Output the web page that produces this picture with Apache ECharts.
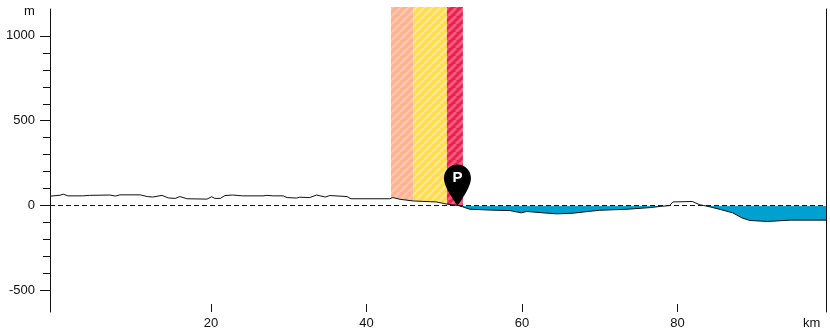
<!DOCTYPE html>
<html><head><meta charset="utf-8">
<style>html,body{margin:0;padding:0;background:#fff}#c{width:830px;height:329px}</style>
<script src="https://cdn.jsdelivr.net/npm/echarts@6/dist/echarts.min.js"></script>
</head><body><div id="c"></div>
<script>
const distanceKm=[-0.7,0.6,1.0,1.6,3.5,4.4,7.0,7.7,8.3,10.9,11.8,12.5,13.7,14.5,15.4,16.0,16.9,19.5,20.1,20.5,21.2,21.8,22.8,24.1,26.7,27.2,28,29.3,29.8,31,31.4,32.7,33.6,34.7,35.3,37.5,38,43,43.4,44.3,46,49,50.4,51.8,52.4,53.3,54.6,55.5,58.5,59.9,60.6,62.7,64.5,66.6,68.5,70,73.5,76.5,77.8,79,79.4,81.9,82.9,83.4,84.2,85.5,87.1,88.3,89.3,91.6,94.5,99.1];
const elevationM=[55,61,67,57,57,60,62,56,63,63,53,50,60,45,42,53,40,38,52,42,42,59,62,57,57,60,57,57,47,44,49,47,62,50,59,53,40,40,47,37,27,21,8,0,-8,-22,-24,-26,-30,-43,-35,-43,-49,-45,-35,-28,-22,-12,-5,0,21,24,4,0,-8,-23,-43,-73,-88,-94,-86,-86];
const bandEdgesKm=[43.15,46,50.35,52.4];
const bandBase=['#ffb08e','#ffdb4d','#e8214f'];
const bandStripe=['#fdc6ae','#ffe88c','#f65c80'];
const xTicks=[20,40,60,80];
const yLabels=[-500,0,500,1000];
const yMinorTicks=[-400,-300,-200,-100,100,200,300,400,600,700,800,900];
const xRange=[-0.7,99.1];
const yRange=[-627.5,1158.5];
const bandTop=1170;
const pinAt=[51.7,0];

function interp(k){
  for(let i=1;i<distanceKm.length;i++){
    if(k<=distanceKm[i]){
      const t=(k-distanceKm[i-1])/(distanceKm[i]-distanceKm[i-1]);
      return elevationM[i-1]+t*(elevationM[i]-elevationM[i-1]);
    }
  }
  return elevationM[elevationM.length-1];
}
function stripes(base,stripe){
  const s=8,c=document.createElement('canvas');c.width=s;c.height=s;
  const g=c.getContext('2d');
  g.fillStyle=base;g.fillRect(0,0,s,s);
  g.strokeStyle=stripe;g.lineWidth=2.8;
  for(let o=-s;o<=s*2;o+=s){g.beginPath();g.moveTo(o-s,s);g.lineTo(o,0);g.stroke();}
  return {image:c,repeat:'repeat'};
}
const patterns=bandBase.map((b,i)=>stripes(b,bandStripe[i]));
const profile=distanceKm.map((k,i)=>[k,elevationM[i]]);
const water=distanceKm.map((k,i)=>[k,Math.min(0,elevationM[i])]);
const font='"Liberation Sans",Arial,sans-serif';
const ink='#111';

const chart=echarts.init(document.getElementById('c'),null,{renderer:'canvas'});
chart.setOption({
  animation:false,
  backgroundColor:'#fff',
  grid:{left:50,right:4,top:9,bottom:17,containLabel:false,outerBoundsMode:'none'},
  graphic:[
    {type:'text',left:24,top:5,style:{text:'m',font:'13px '+font,fill:ink}},
    {type:'text',left:803,top:317,style:{text:'km',font:'13px '+font,fill:ink}}
  ],
  xAxis:{type:'value',min:xRange[0],max:xRange[1],
    axisLine:{show:false,onZero:false},splitLine:{show:false},
    axisTick:{show:true,inside:true,length:8,customValues:xTicks,lineStyle:{color:ink,width:1}},
    axisLabel:{show:true,customValues:xTicks,margin:5,fontSize:13,fontFamily:font,color:ink}},
  yAxis:[
    {type:'value',position:'left',min:yRange[0],max:yRange[1],
      splitLine:{show:false},
      axisLine:{show:true,onZero:false,lineStyle:{color:ink,width:1}},
      axisTick:{show:true,length:10,customValues:yLabels,lineStyle:{color:ink,width:1}},
      axisLabel:{show:true,customValues:yLabels,formatter:v=>String(v),margin:15,fontSize:13,fontFamily:font,color:ink}},
    {type:'value',position:'left',min:yRange[0],max:yRange[1],
      splitLine:{show:false},
      axisLine:{show:false,onZero:false},
      axisTick:{show:true,length:7,customValues:yMinorTicks,lineStyle:{color:ink,width:1}},
      axisLabel:{show:false}},
    {type:'value',position:'right',min:yRange[0],max:yRange[1],
      splitLine:{show:false},
      axisLine:{show:true,onZero:false,lineStyle:{color:ink,width:1}},
      axisTick:{show:false},axisLabel:{show:false}}
  ],
  series:[
    {type:'custom',coordinateSystem:'cartesian2d',silent:true,z:1,clip:false,
      data:bandBase.map((b,i)=>[bandEdgesKm[i],bandEdgesKm[i+1],i]),
      encode:{x:[0,1]},
      renderItem:function(params,api){
        const a=api.value(0),b=api.value(1),idx=api.value(2);
        const pts=[api.coord([a,bandTop]),api.coord([b,bandTop]),api.coord([b,interp(b)])];
        for(let i=distanceKm.length-1;i>=0;i--){
          if(distanceKm[i]<b&&distanceKm[i]>a)pts.push(api.coord([distanceKm[i],elevationM[i]]));
        }
        pts.push(api.coord([a,interp(a)]));
        return {type:'polygon',shape:{points:pts},style:{fill:patterns[idx],stroke:null}};
      }},
    {type:'line',data:water,showSymbol:false,z:2,silent:true,
      lineStyle:{width:0},areaStyle:{color:'#00a0d0',opacity:1,origin:0}},
    {type:'line',data:[[xRange[0],0],[xRange[1],0]],showSymbol:false,z:3,silent:true,
      lineStyle:{color:'#fff',width:1}},
    {type:'line',data:[[xRange[0],0],[xRange[1],0]],showSymbol:false,z:4,silent:true,
      lineStyle:{color:ink,width:1,type:[5,3]}},
    {type:'line',data:profile,showSymbol:false,z:5,silent:true,
      lineStyle:{color:ink,width:1},
      markPoint:{silent:true,z:6,data:[{coord:pinAt}],
        symbol:'path://M14 0C6.3 0 0 6.3 0 14C0 24 14 42 14 42C14 42 28 24 28 14C28 6.3 21.7 0 14 0Z',
        symbolSize:[27,41],symbolOffset:[0,'-50%'],
        itemStyle:{color:'#000'},
        label:{show:true,formatter:'P',position:'inside',offset:[0,-7],color:'#fff',fontSize:15,fontWeight:'bold',fontFamily:font}}}
  ]
});
</script>
</body></html>
